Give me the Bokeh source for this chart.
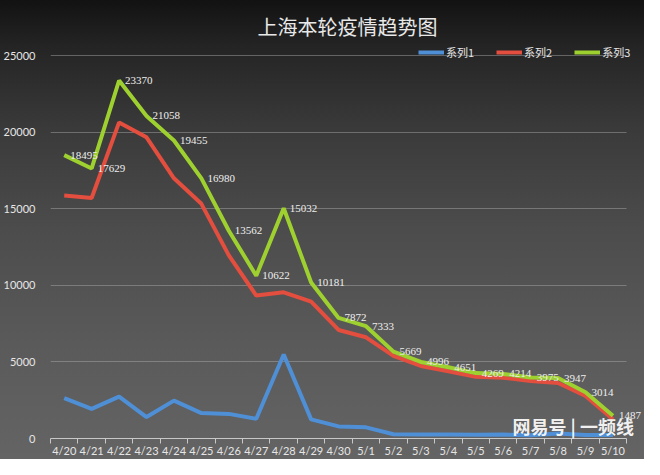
from bokeh.plotting import figure
from bokeh.models import (FixedTicker, Legend, LegendItem, Label, LabelSet,
                          ColumnDataSource, Range1d)
from bokeh.embed import file_html
from bokeh.resources import INLINE

dates = ["4/20", "4/21", "4/22", "4/23", "4/24", "4/25", "4/26", "4/27", "4/28",
         "4/29", "4/30", "5/1", "5/2", "5/3", "5/4", "5/5", "5/6", "5/7", "5/8",
         "5/9", "5/10"]
series1 = [2634, 1931, 2736, 1401, 2472, 1661, 1606, 1292, 5487, 1249, 788, 727,
           274, 260, 261, 245, 253, 215, 322, 234, 228]
series2 = [15861, 15698, 20634, 19657, 16983, 15319, 11956, 9330, 9545, 8932, 7084,
           6606, 5395, 4736, 4390, 4024, 3961, 3760, 3625, 2780, 1259]
series3 = [18495, 17629, 23370, 21058, 19455, 16980, 13562, 10622, 15032, 10181,
           7872, 7333, 5669, 4996, 4651, 4269, 4214, 3975, 3947, 3014, 1487]
names = ["系列1", "系列2", "系列3"]
y_ticks = [0, 5000, 10000, 15000, 20000, 25000]

CJK = "Noto Sans CJK SC"
NUM = "Lato"
n = len(dates)
idx = list(range(n))
src = ColumnDataSource(dict(x=idx, s1=series1, s2=series2, s3=series3,
                            lab=[str(v) for v in series3]))

# frame reaches a bit above 25000 (room for the legend) and to the right edge
# (room for the last data label); grid and axis are bounded to the data area
p = figure(width=644, height=459, output_backend="svg", toolbar_location=None,
           x_range=Range1d(-0.5, n - 0.5 + 0.65), y_range=Range1d(0, 25980),
           min_border_left=48, min_border_right=0, min_border_top=40,
           min_border_bottom=12)
p.styles = {"background": "linear-gradient(to bottom, #121212 0%, #242424 10%, "
                          "#3a3a3a 28%, #4c4c4c 50%, #5a5a5a 75%, #646464 100%)"}
p.border_fill_alpha = 0
p.background_fill_alpha = 0
p.outline_line_color = None

p.title.text = "上海本轮疫情趋势图"
p.title.align = "center"
p.title.vertical_align = "bottom"
p.title.text_font = CJK
p.title.text_font_size = "20px"
p.title.text_font_style = "normal"
p.title.text_color = "#e8e8e8"
p.title.standoff = 0

colors = ["#4f8fd6", "#e34e3e", "#9ed12f"]
r1 = p.line("x", "s1", source=src, line_color=colors[0], line_width=4)
r2 = p.line("x", "s2", source=src, line_color=colors[1], line_width=4)
r3 = p.line("x", "s3", source=src, line_color=colors[2], line_width=4)

labels = LabelSet(x="x", y="s3", text="lab", source=src, x_offset=6,
                  text_baseline="middle", text_color="#eeeeee",
                  text_font=NUM, text_font_size="11px")
p.add_layout(labels)

p.xgrid.grid_line_color = None
p.ygrid.grid_line_color = "#b0b0b0"
p.ygrid.grid_line_alpha = 0.45
p.ygrid.cross_bounds = (-0.5, n - 0.5)

p.xaxis.ticker = FixedTicker(ticks=idx, minor_ticks=[i - 0.5 for i in range(n + 1)])
p.xaxis.bounds = (-0.5, n - 0.5)
p.xaxis.major_label_overrides = {i: d for i, d in enumerate(dates)}
p.xaxis.major_tick_in = 0
p.xaxis.major_tick_out = 0
p.xaxis.minor_tick_in = 0
p.xaxis.minor_tick_out = 5
p.xaxis.minor_tick_line_color = "#c8c8c8"
p.xaxis.axis_line_color = "#c8c8c8"
p.xaxis.major_label_text_color = "#e6e6e6"
p.xaxis.major_label_text_font = NUM
p.xaxis.major_label_text_font_size = "11px"
p.xaxis.major_label_standoff = 0

p.yaxis.ticker = FixedTicker(ticks=y_ticks)
p.yaxis.axis_line_color = None
p.yaxis.major_tick_line_color = None
p.yaxis.minor_tick_line_color = None
p.yaxis.major_label_text_color = "#e6e6e6"
p.yaxis.major_label_text_font = NUM
p.yaxis.major_label_text_font_size = "11px"
p.yaxis.major_label_standoff = 9

legend = Legend(items=[LegendItem(label=names[0], renderers=[r1]),
                       LegendItem(label=names[1], renderers=[r2]),
                       LegendItem(label=names[2], renderers=[r3])],
                orientation="horizontal", location=(368, 378),
                background_fill_alpha=0, border_line_color=None,
                label_text_color="#e6e6e6", label_text_font=CJK,
                label_text_font_size="11px", glyph_width=26, glyph_height=16,
                label_height=16, label_standoff=2, spacing=22, padding=0,
                margin=0)
p.add_layout(legend)

p.add_layout(Label(x=462, y=0, x_units="screen", y_units="screen",
                   text="网易号 | 一频线", text_color="#ffffff", text_alpha=0.92,
                   text_font=CJK, text_font_size="18px", text_font_style="bold"))

open("out.html", "w").write(file_html(p, INLINE))
